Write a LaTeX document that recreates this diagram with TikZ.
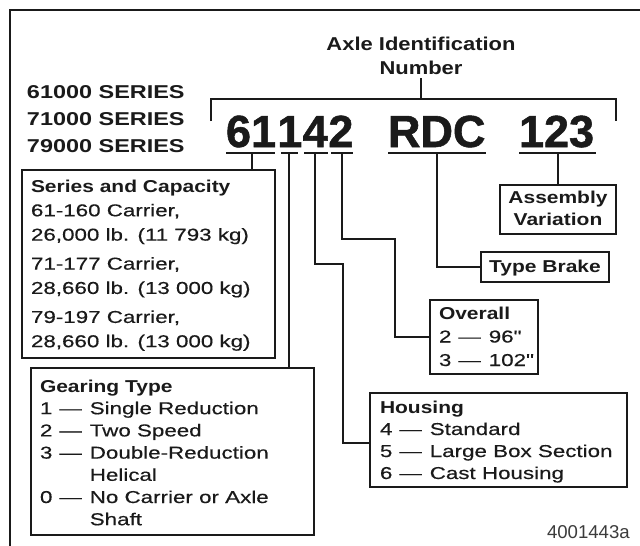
\documentclass[tikz,border=0pt]{standalone}
\usepackage{fontspec}
\setmainfont{Liberation Sans}
\newfontfamily\regf{Liberation Sans}[FakeStretch=1.30,FakeBold=0.35]
\newfontfamily\bldf{Liberation Sans}[FakeStretch=1.22]
\newfontfamily\hdrf{Liberation Sans}[FakeStretch=1.26]
\newfontfamily\ttlf{Liberation Sans}[FakeStretch=1.18]
\newfontfamily\bigf{Liberation Sans}[FakeStretch=1.0,FakeBold=1.2]
\newcommand\bodyt[1]{\regf\fontsize{17.2}{#1}\selectfont}
\newcommand\boldt{\bldf\bfseries}
\newcommand\dsh{\hspace{7pt}—\hspace{8pt}}
\definecolor{ink}{HTML}{1A1A1A}
\begin{document}
\begin{tikzpicture}[x=1pt,y=-1pt,
  ln/.style={line width=1.8pt, draw=ink, line join=miter},
  box/.style={draw=ink, line width=1.8pt, inner sep=0pt, outer sep=0pt, anchor=north west},
  txt/.style={inner sep=0pt, outer sep=0pt, anchor=base west, text=ink},
  ctxt/.style={inner sep=0pt, outer sep=0pt, anchor=base, text=ink},
  hdr/.style={txt, font=\hdrf\bfseries\fontsize{18.6}{20}\selectfont},
  big/.style={txt, font=\bigf\bfseries\fontsize{45}{50}\selectfont}]
\useasboundingbox (0,0) rectangle (640,546);
\fill[white] (0,0) rectangle (640,546);
% outer frame
\draw[line width=2.2pt, draw=ink] (10,600) -- (10,10) -- (700,10);

% title
\node[ctxt] (title) at (421,50) {\parbox[t]{250pt}{\centering\ttlf\bfseries\fontsize{18.6}{24}\selectfont Axle Identification\\Number}};
\coordinate (brk) at (421,99);
\coordinate (bl) at (211,121);
\coordinate (br) at (616,121);
\draw[ln, shorten <=4pt] (title.south) -- (brk);
\draw[ln] (bl) |- (brk) -| (br);

% series headings
\node[hdr] (s61) at (27,98) {61000 SERIES};
\node[hdr] (s71) at (27,125) {71000 SERIES};
\node[hdr] (s79) at (27,152) {79000 SERIES};

% big number
\node[big] (d61) at (226,147) {61};
\node[big] (d1) at (277.2,147) {1};
\node[big] (d4) at (302.8,147) {4};
\node[big] (d2) at (328.4,147) {2};
\node[big] (dR) at (388,147) {RDC};
\node[big] (d123) at (519,147) {123};
\draw[ln] (226,153) -- (275,153);
\draw[ln] (281,153) -- (298,153);
\draw[ln] (304,153) -- (328,153);
\draw[ln] (331,153) -- (353,153);
\draw[ln] (388,153) -- (486,153);
\draw[ln] (519,153) -- (596,153);
\coordinate (u61) at (252,153);
\coordinate (u1) at (289,153);
\coordinate (u4) at (315,153);
\coordinate (u2) at (342,153);
\coordinate (uR) at (437,153);
\coordinate (u123) at (558,153);

% boxes
\node[box, minimum width=253pt, minimum height=188pt] (series) at (22,170) {};
\node[box, minimum width=283pt, minimum height=167pt] (gear) at (31,368) {};
\node[box, minimum width=257pt, minimum height=94pt] (housing) at (370,393) {};
\node[box, minimum width=116pt, minimum height=49pt] (assembly) at (500,185) {};
\node[box, minimum width=128pt, minimum height=30pt] (brake) at (481,252) {};
\node[box, minimum width=108pt, minimum height=74pt] (overall) at (430,300) {};

% box texts
\node[txt] (seriestxt) at (31,192) {\parbox[t]{245pt}{\raggedright\bodyt{24.3}{\boldt Series and Capacity}\\
61-160 Carrier,\\26,000 lb. (11 793 kg)\\[4.7pt]
71-177 Carrier,\\28,660 lb. (13 000 kg)\\[4.7pt]
79-197 Carrier,\\28,660 lb. (13 000 kg)}};
\node[txt] (geartxt) at (40,392) {\parbox[t]{272pt}{\raggedright\bodyt{22.2}{\boldt Gearing Type}\\
1\dsh Single Reduction\\
2\dsh Two Speed\\
3\dsh Double-Reduction\\
\hphantom{3\dsh}Helical\\
0\dsh No Carrier or Axle\\
\hphantom{0\dsh}Shaft}};
\node[txt] (housingtxt) at (380,413) {\parbox[t]{245pt}{\raggedright\bodyt{22}{\boldt Housing}\\
4\dsh Standard\\
5\dsh Large Box Section\\
6\dsh Cast Housing}};
\node[txt] (overalltxt) at (439,319) {\parbox[t]{96pt}{\raggedright\bodyt{23.5}{\boldt Overall}\\
2\dsh 96"\\
3\dsh 102"}};
\node[ctxt] (assemblytxt) at (558,203) {\parbox[t]{112pt}{\centering\bodyt{22}\boldt Assembly\\Variation}};
\node[ctxt] (braketxt) at (545,272) {\bodyt{20}\boldt Type Brake};

% connectors
\draw[ln] (u61) -- (u61 |- series.north);
\draw[ln] (u1) -- (u1 |- gear.north);
\draw[ln] (u4) |- (343,264) |- ([yshift=-3pt]housing.west);
\draw[ln] (u2) |- (395,239) |- (overall.west);
\draw[ln] (uR) |- (brake.west);
\draw[ln] (u123) -- (u123 |- assembly.north);

% figure id
\node[txt, text=ink!85, font=\fontsize{18.6}{20}\selectfont] (figid) at (547,538) {4001443a};
\end{tikzpicture}
\end{document}
